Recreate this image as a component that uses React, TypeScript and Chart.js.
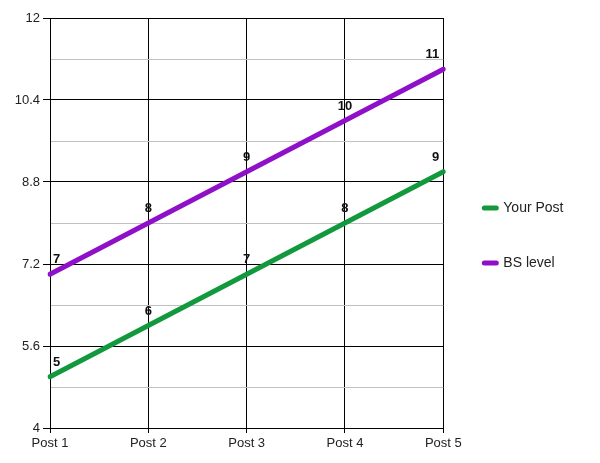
import React, { useEffect, useRef } from "react";
import { Chart, registerables } from "chart.js";

Chart.register(...registerables);

const categories = ["Post 1", "Post 2", "Post 3", "Post 4", "Post 5"];
const yourPost = [5, 6, 7, 8, 9];
const bsLevel = [7, 8, 9, 10, 11];
const yMin = 4;
const yMax = 12;
const yStep = 0.8;

const GREEN = "#12993d";
const PURPLE = "#900fc8";

const valueLabels = {
  id: "valueLabels",
  afterDatasetsDraw(chart: any) {
    const { ctx, chartArea } = chart;
    ctx.save();
    ctx.font = "bold 13px 'Liberation Sans', Arial, sans-serif";
    ctx.fillStyle = "#111";
    ctx.textAlign = "center";
    ctx.textBaseline = "alphabetic";
    chart.data.datasets.forEach((ds: any, di: number) => {
      const meta = chart.getDatasetMeta(di);
      meta.data.forEach((pt: any, i: number) => {
        const txt = String(ds.data[i]);
        const w = ctx.measureText(txt).width;
        let x = pt.x;
        x = Math.max(x, chartArea.left + 3 + w / 2);
        x = Math.min(x, chartArea.right - 4 - w / 2);
        ctx.fillText(txt, x, pt.y - 11);
      });
    });
    ctx.restore();
  },
};

export default function App() {
  const ref = useRef<HTMLCanvasElement>(null);
  useEffect(() => {
    if (!ref.current) return;
    Chart.defaults.font.family = "'Liberation Sans', Arial, sans-serif";
    const baseGen = Chart.defaults.plugins.legend.labels.generateLabels;
    const chart = new Chart(ref.current, {
      type: "line",
      data: {
        labels: categories,
        datasets: [
          {
            label: "Your Post",
            data: yourPost,
            borderColor: GREEN,
            backgroundColor: GREEN,
            borderWidth: 5,
            borderCapStyle: "round",
            pointRadius: 0,
            tension: 0,
          },
          {
            label: "BS level",
            data: bsLevel,
            borderColor: PURPLE,
            backgroundColor: PURPLE,
            borderWidth: 5,
            borderCapStyle: "round",
            pointRadius: 0,
            tension: 0,
          },
        ],
      },
      options: {
        animation: false,
        responsive: false,
        maintainAspectRatio: false,
        layout: { padding: { top: 18, bottom: 10, left: 0, right: 26.5 } },
        plugins: {
          tooltip: { enabled: false },
          legend: {
            position: "right",
            labels: {
              usePointStyle: true,
              pointStyle: "line",
              pointStyleWidth: 12,
              padding: 41,
              color: "#222",
              font: { size: 14 },
              generateLabels: (c: any) =>
                baseGen(c).map((l: any) => ({ ...l, lineCap: "round", lineWidth: 5 })),
            },
          },
        },
        scales: {
          x: {
            offset: false,
            grid: {
              color: "#000",
              lineWidth: 1,
              tickLength: 5,
              tickColor: "#000",
              offset: false,
            },
            border: { color: "#000" },
            ticks: { color: "#222", font: { size: 13 }, padding: 3, maxRotation: 0 },
            afterFit(scale: any) {
              scale.height = 25;
            },
          },
          y: {
            min: yMin,
            max: yMax,
            grid: {
              color: (c: any) => (c.index % 2 === 0 ? "#000" : "#c0c0c0"),
              tickColor: (c: any) => (c.index % 2 === 0 ? "#000" : "rgba(0,0,0,0)"),
              tickLength: 7,
              lineWidth: 1,
            },
            border: { color: "#000" },
            ticks: {
              stepSize: yStep,
              color: "#222",
              font: { size: 13 },
              padding: 3,
              callback: (v: any, i: number) =>
                i % 2 === 0 ? String(Math.round(Number(v) * 10) / 10) : "",
            },
            afterFit(scale: any) {
              scale.width = 50;
            },
          },
        },
      },
      plugins: [valueLabels],
    });
    return () => chart.destroy();
  }, []);
  return (
    <div style={{ position: "fixed", left: 0, top: 0, width: 600, height: 463 }}>
      <canvas ref={ref} width={600} height={463} />
    </div>
  );
}
